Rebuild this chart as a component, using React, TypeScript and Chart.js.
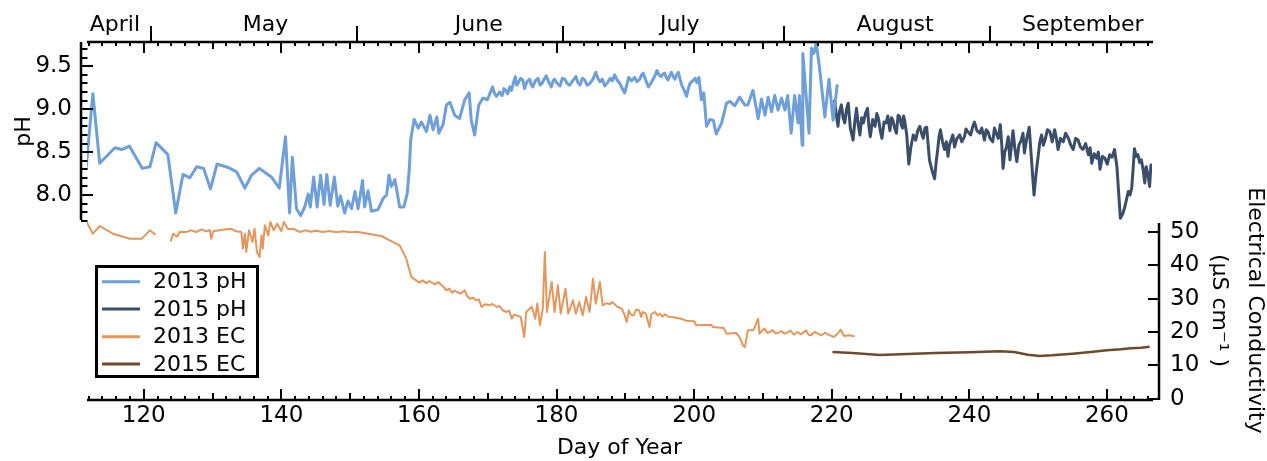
import React, { useEffect, useRef } from 'react';
import { Chart, registerables } from 'chart.js';

Chart.register(...registerables);

const FONT = '"DejaVu Sans", "Noto Sans", sans-serif';

// ---- axes / labels ----
const xMin = 111.75;
const xMax = 266.55;
const dayTicks = [120, 140, 160, 180, 200, 220, 240, 260];
const monthNames = ['April', 'May', 'June', 'July', 'August', 'September'];
const monthLabelDays = [115.8, 137.7, 168.7, 197.9, 229.2, 256.5];
const monthBoundaryDays = [121, 151, 181, 213, 243];
const phTicks = [8.0, 8.5, 9.0, 9.5];
const ecTicks = [0, 10, 20, 30, 40, 50];

const seriesLabels = ['2013 pH', '2015 pH', '2013 EC', '2015 EC'];
const seriesColors = ['#6f9fd8', '#3b4e69', '#e3975d', '#6e4a2d'];
const seriesWidths = [3, 3, 2, 2.5];

// ---- 2013 pH ----
const ph2013Day = [111.6, 112.6, 113.6, 115.8, 116.8, 117.9, 119.8, 120.9, 121.8, 123.5, 124.65, 125.7, 126.7, 127.7, 128.7, 129.7, 130.65, 132.3, 133.5, 134.7, 135.65, 136.8, 138.55, 139.7, 140.6, 141.2, 141.6, 142.2, 142.8, 143.4, 143.9, 144.2, 144.7, 145.2, 145.7, 146.2, 146.6, 147.1, 147.7, 148.2, 148.6, 149.2, 149.7, 150.2, 150.7, 151.15, 151.8, 152.1, 152.6, 153.1, 154.05, 154.8, 155.3, 155.65, 156.0, 156.5, 157.2, 157.8, 158.3, 158.6, 158.8, 159.3, 159.9, 160.35, 161.1, 161.6, 162.05, 162.6, 162.9, 163.5, 164.0, 164.5, 165.2, 165.9, 166.65, 167.3, 167.6, 168.1, 168.7, 169.3, 169.95,
  170.7, 171.0, 171.25, 171.7, 172.1, 172.35, 172.6, 172.9, 173.2, 173.45, 173.7, 174.0, 174.2, 174.4, 174.75, 175.1, 175.35, 175.7, 176.1, 176.3, 176.55, 176.9, 177.3, 177.6, 177.9, 178.2, 178.5, 178.9, 179.25, 179.5, 179.7, 180.1, 180.5, 180.85, 181.2, 181.55, 181.9, 182.35, 182.8, 183.1, 183.4, 183.75, 184.1, 184.45, 184.85, 185.3, 185.7, 186.0, 186.3, 186.65, 187.0, 187.4, 187.8, 188.1, 188.45, 188.8, 189.2, 189.55, 189.9, 190.2, 190.5, 190.9, 191.35, 191.7, 192.1, 192.35, 192.6, 192.95, 193.35, 193.7, 194.1, 194.35, 194.6, 194.9, 195.2, 195.45, 195.7, 195.95, 196.2, 196.45, 196.7, 196.95, 197.2, 197.45, 197.7, 197.95, 198.2, 198.55, 198.9, 199.15, 199.4, 199.8, 200.15, 200.4, 200.7,
  201.05, 201.4, 201.8, 202.3, 202.8, 203.2, 204.0, 204.7, 205.2, 205.9, 206.6, 207.35, 207.8, 208.55, 209.3, 209.8, 210.3, 210.75, 211.25, 211.7, 212.2, 212.7, 213.2, 213.6, 214.1, 214.6, 215.1, 215.3, 215.7, 215.8, 216.7, 217.05, 217.4, 217.75, 218.2, 219.0, 219.6, 220.2, 220.8];
const ph2013Val = [8.29, 9.18, 8.37, 8.55, 8.53, 8.57, 8.31, 8.33, 8.61, 8.47, 7.79, 8.24, 8.2, 8.33, 8.31, 8.07, 8.36, 8.32, 8.27, 8.08, 8.23, 8.31, 8.21, 8.08, 8.68, 7.79, 8.44, 7.84, 7.76, 7.86, 8.01, 7.86, 8.21, 7.86, 8.23, 7.89, 8.24, 7.88, 8.21, 7.87, 7.99, 7.79, 7.93, 7.84, 8.04, 7.84, 8.17, 7.86, 8.05, 7.81, 7.83, 7.96, 8.0, 8.23, 8.1, 8.18, 7.86, 7.86, 8.02, 8.31, 8.64, 8.88, 8.78, 8.85, 8.74, 8.93, 8.76, 8.91, 8.72, 8.82, 9.05, 9.08, 8.93, 8.89, 9.11, 9.19, 8.87, 8.7, 9.05, 9.13, 9.11,
  9.26, 9.18, 9.15, 9.2, 9.16, 9.24, 9.22, 9.18, 9.26, 9.22, 9.3, 9.38, 9.28, 9.3, 9.36, 9.34, 9.24, 9.32, 9.35, 9.29, 9.26, 9.33, 9.36, 9.28, 9.3, 9.35, 9.39, 9.31, 9.26, 9.33, 9.35, 9.3, 9.27, 9.36, 9.35, 9.3, 9.28, 9.33, 9.38, 9.31, 9.28, 9.36, 9.34, 9.28, 9.3, 9.35, 9.43, 9.36, 9.32, 9.35, 9.27, 9.31, 9.36, 9.33, 9.4, 9.34, 9.3, 9.24, 9.19, 9.28, 9.37, 9.33, 9.37, 9.32, 9.35, 9.4, 9.42, 9.34, 9.26, 9.3, 9.36, 9.4, 9.45, 9.4, 9.38, 9.41, 9.42, 9.37, 9.34, 9.39, 9.43, 9.38, 9.35, 9.4, 9.43, 9.35, 9.28, 9.22, 9.15, 9.24, 9.3, 9.33, 9.36, 9.31, 9.37,
  9.11, 9.19, 8.8, 8.88, 8.87, 8.71, 8.84, 9.07, 9.09, 9.04, 9.14, 9.05, 9.05, 9.22, 8.89, 9.12, 8.93, 9.14, 8.97, 9.16, 8.99, 9.13, 8.99, 9.16, 8.72, 9.16, 8.84, 9.16, 8.58, 9.65, 8.72, 9.71, 9.65, 9.77, 9.5, 8.91, 9.35, 8.87, 9.29];

// ---- 2015 pH ----
const ph2015Day = [220.4, 220.65, 220.9, 221.15, 221.4, 221.65, 221.9, 222.15, 222.4, 222.7, 223.1, 223.35, 223.6, 223.85, 224.1, 224.35, 224.6, 224.9, 225.2, 225.4, 225.6, 225.95, 226.3, 226.55, 226.8, 227.05, 227.3, 227.6, 227.9, 228.15, 228.45, 228.7, 228.9, 229.15, 229.4, 229.65, 229.9, 230.1, 230.3, 230.45, 230.6, 230.9, 231.2, 231.5, 231.85, 232.2, 232.5, 232.8, 233.05, 233.3, 233.55, 233.8, 234.0, 234.2, 234.6, 234.95, 235.2, 235.4, 235.6, 235.8, 236.1, 236.4, 236.65, 236.9, 237.1, 237.35, 237.6, 237.85, 238.2, 238.6, 238.9, 239.3, 239.5, 239.75, 240.2, 240.5, 240.75, 241.1, 241.5, 241.8, 242.2, 242.45, 242.7, 243.0, 243.4, 243.65, 243.9, 244.2, 244.5, 244.7, 244.9, 245.15, 245.4, 245.65, 245.9, 246.15, 246.35, 246.6, 246.9, 247.2, 247.55, 247.8, 248.0, 248.35, 248.7, 249.0, 249.4, 249.7, 250.0, 250.25, 250.5, 250.75, 251.0, 251.35, 251.7, 252.05, 252.4, 252.65, 252.9, 253.25, 253.65, 254.0, 254.4, 254.75, 255.1, 255.45, 255.8, 256.15, 256.5, 256.9, 257.3, 257.55, 257.8, 258.15, 258.5, 258.75, 259.0, 259.35, 259.7, 260.05, 260.4, 260.75, 261.1, 261.45, 261.95, 262.3, 262.6, 262.85, 263.1, 263.35, 263.6, 263.8, 264.0, 264.25, 264.5, 264.75, 265.0, 265.25, 265.5, 265.7, 266.0, 266.2, 266.4, 266.55];
const ph2015Val = [9.11, 8.95, 8.8, 8.98, 9.05, 8.9, 8.84, 9.0, 9.07, 8.78, 8.64, 8.85, 9.01, 8.82, 8.7, 8.9, 8.84, 8.95, 9.01, 8.8, 8.68, 8.88, 8.8, 8.95, 8.89, 8.75, 8.66, 8.85, 8.84, 8.92, 8.75, 8.9, 8.87, 8.78, 8.72, 8.93, 8.91, 8.82, 8.78, 8.92, 8.87, 8.7, 8.36, 8.56, 8.7, 8.64, 8.75, 8.8, 8.72, 8.66, 8.78, 8.79, 8.6, 8.41, 8.28, 8.19, 8.4, 8.53, 8.68, 8.76, 8.62, 8.53, 8.62, 8.45, 8.58, 8.64, 8.7, 8.56, 8.66, 8.7, 8.62, 8.68, 8.77, 8.74, 8.7, 8.8, 8.85, 8.75, 8.72, 8.78, 8.64, 8.76, 8.74, 8.66, 8.62, 8.78, 8.72, 8.66, 8.82, 8.6, 8.31, 8.5, 8.56, 8.68, 8.41, 8.6, 8.75, 8.55, 8.39, 8.58, 8.64, 8.72, 8.49, 8.66, 8.79, 8.45, 8.0, 8.25, 8.45, 8.62, 8.7, 8.58, 8.64, 8.76, 8.74, 8.62, 8.76, 8.66, 8.53, 8.66, 8.62, 8.72, 8.66, 8.58, 8.53, 8.66, 8.64, 8.56, 8.53, 8.6, 8.47, 8.55, 8.37, 8.48, 8.43, 8.5, 8.3, 8.45, 8.43, 8.36, 8.47, 8.44, 8.53, 8.33, 7.73, 7.78, 7.86, 7.95, 8.04, 8.0, 8.08, 8.3, 8.54, 8.45, 8.47, 8.38, 8.41, 8.3, 8.14, 8.33, 8.22, 8.1, 8.35, 8.33];

// ---- 2013 EC (null = data gap) ----
const ec2013Day = [111.7, 112.6, 113.6, 115.5, 118.0, 119.7, 120.9, 121.7, 122.8, 123.9, 124.3, 124.8, 125.3, 126.1, 126.9, 127.6, 128.4, 129.1, 129.6, 129.8, 130.1, 131.0, 132.0, 132.7, 133.4, 134.2, 134.4, 134.7, 134.9, 135.3, 135.8, 136.1, 136.45, 136.85, 137.1, 137.3, 137.6, 138.1, 138.4, 138.9, 139.4, 140.0, 140.35, 141.0, 141.7, 142.7, 143.5, 144.3, 145.0, 146.0, 147.0, 148.0, 149.0, 150.0, 151.0, 152.0, 153.4, 154.5, 155.75, 157.2, 158.15, 158.9, 159.6, 160.1, 160.5, 161.1, 161.5, 161.8, 162.4, 162.8, 163.1, 163.6, 164.0, 164.4, 164.8, 165.2, 165.5, 166.0, 166.65, 167.0, 167.4, 167.9, 168.3, 168.7, 169.1, 169.6, 170.2, 170.7, 171.3, 171.7, 172.2, 172.7, 173.1, 173.5, 173.8, 174.2, 174.8, 175.3, 175.6, 176.4, 176.9, 177.2, 177.6, 178.0, 178.3, 178.6, 179.3, 179.7, 180.2, 180.6, 181.3, 181.7, 182.4, 182.8, 183.3, 183.8, 184.3, 184.8, 185.3, 185.7, 186.3, 186.7, 187.2, 187.8, 188.1, 188.4, 188.9, 189.5, 189.9, 190.2, 190.5, 190.8, 191.2, 191.6, 192.0, 192.3, 192.5, 193.0, 193.5, 193.8, 194.3, 194.7, 195.0, 195.4, 195.7, 196.3, 196.9, 197.5, 198.1, 198.8, 200.0, 200.3, 202.5, 202.7, 204.3, 204.7, 206.1, 206.6, 207.1, 207.4, 207.8, 208.6, 209.3, 209.5, 209.9, 210.2, 210.6, 211.0, 211.4, 211.8, 212.2, 212.7, 213.1, 213.5, 214.0, 214.5, 215.0, 215.5, 216.3, 216.6, 217.0, 217.5, 218.0, 218.5, 219.0, 219.5, 220.3, 220.8, 221.3, 221.8, 222.5, 223.35];
const ec2013Val = [53.0, 49.5, 51.8, 49.5, 48.0, 48.0, 50.5, 49.2, null, 47.2, 49.5, 48.6, 50.1, 50.0, 50.5, 50.0, 50.8, 50.2, 50.5, 48.0, 50.2, 50.5, 50.8, 51.0, 50.2, 50.0, 45.0, 49.5, 44.0, 50.5, 47.0, 51.0, 44.0, 42.5, 49.0, 45.0, 52.0, 49.0, 53.0, 50.5, 52.5, 50.2, 53.0, 50.8, 51.0, 50.0, 50.5, 50.1, 50.4, 50.0, 50.3, 49.9, 50.2, 49.9, 50.1, 49.7, 49.2, 48.8, 47.5, 46.0, 42.0, 36.5, 35.5, 34.8, 35.5, 34.6, 35.3, 34.9, 34.3, 35.0, 34.4, 33.5, 32.5, 33.0, 31.8, 32.4, 32.0, 31.5, 32.5, 30.8, 30.0, 30.3, 29.5, 29.8, 27.5, 28.3, 28.0, 28.4, 27.5, 27.8, 26.5, 26.0, 26.4, 24.0, 25.2, 25.0, 24.5, 18.5, 26.0, 27.6, 24.0, 28.6, 22.0, 27.0, 44.0, 26.0, 35.0, 26.0, 34.0, 25.5, 33.0, 25.5, 29.5, 25.5, 29.0, 25.0, 30.5, 26.0, 36.0, 28.5, 35.0, 28.0, 28.6, 28.4, 29.0, 28.4, 27.5, 27.0, 25.0, 23.0, 26.5, 25.2, 25.0, 26.8, 26.5, 24.5, 26.0, 25.5, 21.5, 25.4, 26.0, 25.0, 25.5, 24.6, 25.3, 24.6, 24.5, 24.2, 24.0, 23.4, 23.2, 22.0, 22.2, 21.5, 21.2, 19.5, 19.7, 18.5, 15.9, 15.5, 20.5, 20.5, 24.0, 19.5, 20.5, 21.0, 19.8, 20.0, 20.6, 19.6, 19.7, 20.3, 19.5, 19.8, 20.4, 19.2, 20.0, 19.3, 20.5, 19.2, 19.0, 20.0, 19.5, 19.0, 19.8, 19.2, 18.5, 19.4, 20.7, 18.8, 19.0, 18.7];

// ---- 2015 EC ----
const ec2015Day = [220.1, 223.0, 227.0, 231.0, 235.0, 240.0, 244.5, 246.5, 248.5, 250.2, 252.0, 255.0, 258.0, 260.0, 262.0, 263.5, 265.0, 266.2];
const ec2015Val = [14.0, 13.7, 13.1, 13.4, 13.7, 13.9, 14.2, 14.0, 13.2, 12.8, 13.0, 13.5, 14.1, 14.5, 14.8, 15.1, 15.3, 15.6];

// legend layout (px)
const legendBox = { left: 95, top: 265, right: 259, bottom: 378 };
const legendRowY = [281.7, 309, 336.7, 364];

const toPoints = (days: number[], vals: (number | null)[]) =>
  days.map((d, i) => ({ x: d, y: vals[i] }));

const axesPlugin = {
  id: 'igorAxes',
  afterDraw(chart: any) {
    const { ctx, chartArea: ca, scales } = chart;
    const x = scales.x;
    const yPh = scales.yPh;
    const yEc = scales.yEc;
    ctx.save();
    ctx.strokeStyle = '#000';
    ctx.lineCap = 'butt';
    const seg = (x1: number, y1: number, x2: number, y2: number) => {
      ctx.beginPath();
      ctx.moveTo(x1, y1);
      ctx.lineTo(x2, y2);
      ctx.stroke();
    };
    // bottom and top day axes
    ctx.lineWidth = 2.5;
    seg(ca.left, ca.bottom, ca.right + 1, ca.bottom);
    seg(ca.left, ca.top, ca.right + 1, ca.top);
    ctx.lineWidth = 2;
    for (let d = Math.ceil(xMin / 2) * 2; d <= xMax; d += 2) {
      const px = Math.round(x.getPixelForValue(d));
      const len = d % 20 === 0 ? 11 : d % 10 === 0 ? 7 : 4;
      seg(px, ca.bottom, px, ca.bottom - len);
      seg(px, ca.top, px, ca.top + len);
    }
    // month boundaries on top axis
    monthBoundaryDays.forEach((d) => {
      const px = Math.round(x.getPixelForValue(d));
      seg(px, ca.top, px, ca.top - 16);
    });
    // pH axis (left, offset)
    const ax = ca.left - 6;
    ctx.lineWidth = 2.5;
    seg(ax, yPh.top, ax, yPh.bottom - 1);
    ctx.lineWidth = 2;
    for (let i = 77; i <= 97; i++) {
      const py = Math.round(yPh.getPixelForValue(i / 10));
      const len = i % 5 === 0 ? 12 : 6.5;
      seg(ax, py, ax + len, py);
    }
    // EC axis (right, offset)
    const ex = ca.right + 7;
    ctx.lineWidth = 2.5;
    seg(ex, yEc.top + 2, ex, yEc.bottom);
    ctx.lineWidth = 2;
    ecTicks.forEach((v) => {
      const py = Math.round(yEc.getPixelForValue(v));
      seg(ex, py, ex - 11, py);
    });

    // legend box
    const b = legendBox;
    ctx.fillStyle = '#fff';
    ctx.fillRect(b.left, b.top, b.right - b.left, b.bottom - b.top);
    ctx.lineWidth = 3;
    ctx.strokeStyle = '#000';
    ctx.strokeRect(b.left + 1.5, b.top + 1.5, b.right - b.left - 3, b.bottom - b.top - 3);
    ctx.font = `22px ${FONT}`;
    ctx.textAlign = 'left';
    ctx.textBaseline = 'middle';
    chart.data.datasets.forEach((ds: any, i: number) => {
      const cy = legendRowY[i];
      ctx.strokeStyle = ds.borderColor;
      ctx.lineWidth = 3;
      seg(b.left + 7, cy, b.left + 45, cy);
      ctx.fillStyle = '#000';
      ctx.fillText(ds.label, b.left + 58, cy + 1);
    });
    ctx.restore();
  },
};

const tickFont = { family: FONT, size: 23 };
const textFont = { family: FONT, size: 22 };
const noGrid = { display: false, drawTicks: false, tickLength: 0 };
const noBorder = { display: false };

export default function App() {
  const ref = useRef<HTMLCanvasElement>(null);

  useEffect(() => {
    const series = [
      toPoints(ph2013Day, ph2013Val),
      toPoints(ph2015Day, ph2015Val),
      toPoints(ec2013Day, ec2013Val),
      toPoints(ec2015Day, ec2015Val),
    ];
    const axisIds = ['yPh', 'yPh', 'yEc', 'yEc'];
    const chart = new Chart(ref.current as HTMLCanvasElement, {
      type: 'line',
      data: {
        datasets: series.map((pts, i) => ({
          label: seriesLabels[i],
          data: pts,
          xAxisID: 'x',
          yAxisID: axisIds[i],
          borderColor: seriesColors[i],
          backgroundColor: seriesColors[i],
          borderWidth: seriesWidths[i],
          borderJoinStyle: 'round',
          pointRadius: 0,
          tension: 0,
          spanGaps: false,
          fill: false,
        })),
      },
      options: {
        responsive: false,
        animation: false,
        devicePixelRatio: 1,
        layout: { padding: 0 },
        plugins: { legend: { display: false }, tooltip: { enabled: false } },
        scales: {
          x: {
            type: 'linear',
            position: 'bottom',
            min: xMin,
            max: xMax,
            afterBuildTicks: (s: any) => {
              s.ticks = dayTicks.map((v) => ({ value: v }));
            },
            grid: noGrid,
            border: noBorder,
            ticks: { font: tickFont, color: '#000', padding: 2, maxRotation: 0, autoSkip: false, callback: (v: any) => String(v) },
            title: { display: true, text: 'Day of Year', font: textFont, color: '#000', padding: { top: 0, bottom: 0 } },
            afterFit: (s: any) => {
              s.height = 61;
            },
          },
          xTop: {
            type: 'linear',
            position: 'top',
            min: xMin,
            max: xMax,
            afterBuildTicks: (s: any) => {
              s.ticks = monthLabelDays.map((v) => ({ value: v }));
            },
            grid: noGrid,
            border: noBorder,
            ticks: { font: textFont, color: '#000', padding: 4, maxRotation: 0, autoSkip: false, callback: (_v: any, i: number) => monthNames[i] },
            afterFit: (s: any) => {
              s.height = 42;
            },
          },
          yPhDummy: {
            type: 'linear',
            position: 'left',
            stack: 'left',
            stackWeight: 1,
            weight: 0,
            min: 0,
            max: 1,
            grid: noGrid,
            border: noBorder,
            ticks: { display: false },
            afterFit: (s: any) => {
              s.width = 87;
            },
          },
          yPh: {
            type: 'linear',
            position: 'left',
            stack: 'left',
            stackWeight: 1,
            weight: 1,
            min: 7.697,
            max: 9.783,
            afterBuildTicks: (s: any) => {
              s.ticks = phTicks.map((v) => ({ value: v }));
            },
            grid: noGrid,
            border: noBorder,
            ticks: { font: tickFont, color: '#000', padding: 15, autoSkip: false, callback: (v: any) => Number(v).toFixed(1) },
            title: { display: true, text: 'pH', font: textFont, color: '#000', padding: { top: 11, bottom: 0 } },
            afterFit: (s: any) => {
              s.width = 87;
            },
          },
          yEcDummy: {
            type: 'linear',
            position: 'right',
            stack: 'right',
            stackWeight: 1,
            weight: 0,
            min: 0,
            max: 1,
            grid: noGrid,
            border: noBorder,
            ticks: { display: false },
            afterFit: (s: any) => {
              s.width = 115;
            },
          },
          yEc: {
            type: 'linear',
            position: 'right',
            stack: 'right',
            stackWeight: 1,
            weight: 1,
            min: -0.4,
            max: 53.3,
            afterBuildTicks: (s: any) => {
              s.ticks = ecTicks.map((v) => ({ value: v }));
            },
            grid: noGrid,
            border: noBorder,
            ticks: { font: tickFont, color: '#000', padding: 18, autoSkip: false, callback: (v: any) => String(v) },
            title: {
              display: true,
              text: ['Electrical Conductivity', '(\u00b5S cm\u207b\u00b9 )'],
              font: { family: FONT, size: 22, lineHeight: 1.6 },
              color: '#000',
              padding: { top: -5, bottom: 0 },
            },
            afterFit: (s: any) => {
              s.width = 115;
            },
          },
        },
      } as any,
      plugins: [axesPlugin],
    } as any);
    return () => chart.destroy();
  }, []);

  return (
    <div style={{ position: 'absolute', left: 0, top: 0, width: 1267, height: 461, background: '#fff' }}>
      <canvas ref={ref} width={1267} height={461} style={{ display: 'block' }} />
    </div>
  );
}
